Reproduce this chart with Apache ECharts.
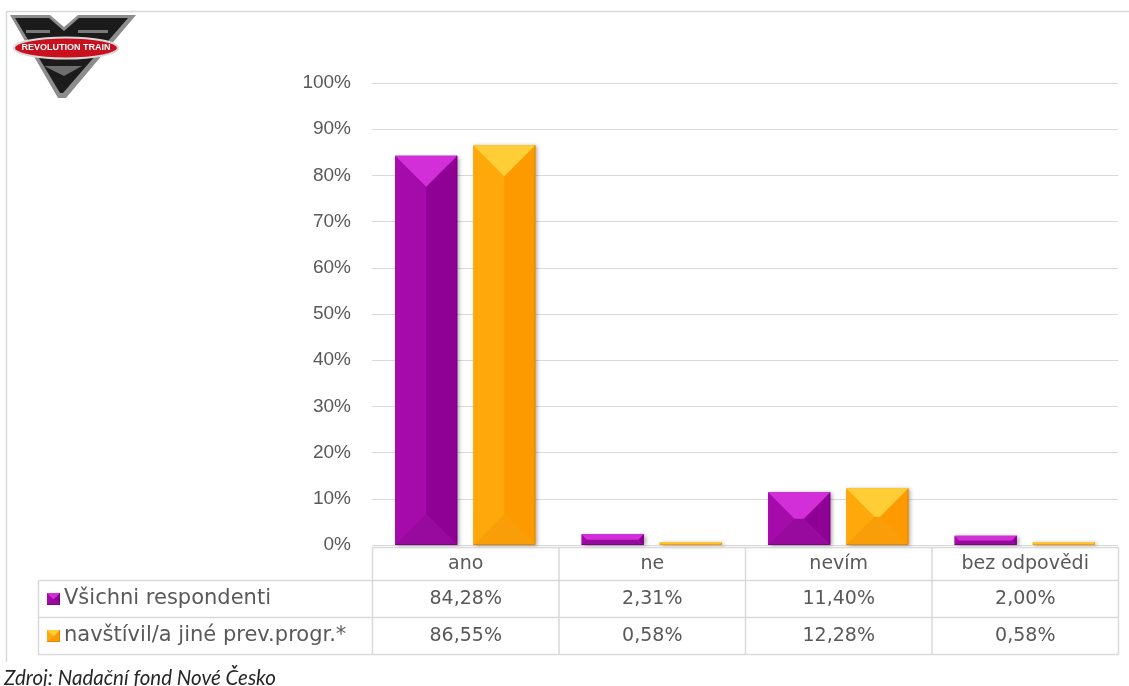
<!DOCTYPE html>
<html>
<head>
<meta charset="utf-8">
<script src="https://cdn.jsdelivr.net/npm/echarts@6/dist/echarts.min.js"></script>
<style>
    html, body { margin: 0; padding: 0; background: #fff; }
    #chart { width: 1129px; height: 686px; }
</style>
</head>
<body>
<div id="chart"></div>
<script>
// data
var categories = ['ano', 'ne', 'nevím', 'bez odpovědi'];
var seriesNames = ['Všichni respondenti', 'navštívil/a jiné prev.progr.*'];
var allValues = [84.28, 2.31, 11.40, 2.00];
var visitedValues = [86.55, 0.58, 12.28, 0.58];
var yTicks = [0, 10, 20, 30, 40, 50, 60, 70, 80, 90, 100];
var sourceText = 'Zdroj: Nadační fond Nové Česko';

// bevel colours
var purple = { top: '#d22fd9', left: '#a50bab', right: '#8f0095', bottom: '#970a9d', inner: '#a50bab', edge: '#6d0072' };
var orange = { top: '#ffce36', left: '#ffa80c', right: '#fd9a00', bottom: '#f99e08', inner: '#ffa80c', edge: '#d27c00' };

var textGrey = '#595959';
var lineGrey = '#d9d9d9';
var tableFont = 'DejaVu Sans';

function fmt(v) {
    return v.toFixed(2).replace('.', ',') + '%';
}

// one bevelled box (excel "angle" bevel look)
function bevel(x, y, w, h, pal, shadow) {
    var d = Math.min(w, h) / 2;
    var kids = [{
        type: 'rect',
        shape: { x: x, y: y, width: w, height: h },
        style: shadow ? {
            fill: pal.left, shadowBlur: 4, shadowColor: 'rgba(0,0,0,0.35)',
            shadowOffsetX: 2, shadowOffsetY: 1
        } : { fill: pal.left }
    }];
    kids.push({ type: 'polygon', shape: { points: [[x, y], [x + d, y + d], [x + d, y + h - d], [x, y + h]] }, style: { fill: pal.left } });
    kids.push({ type: 'polygon', shape: { points: [[x + w, y], [x + w - d, y + d], [x + w - d, y + h - d], [x + w, y + h]] }, style: { fill: pal.right } });
    kids.push({ type: 'polygon', shape: { points: [[x, y + h], [x + d, y + h - d], [x + w - d, y + h - d], [x + w, y + h]] }, style: { fill: pal.bottom } });
    kids.push({ type: 'polygon', shape: { points: [[x, y], [x + d, y + d], [x + w - d, y + d], [x + w, y]] }, style: { fill: pal.top } });
    if (w - 2 * d > 0.5 && h - 2 * d > 0.5) {
        kids.push({ type: 'rect', shape: { x: x + d, y: y + d, width: w - 2 * d, height: h - 2 * d }, style: { fill: pal.inner } });
    }
    if (h > 3) {
        kids.push({ type: 'polyline', shape: { points: [[x + w - 0.5, y], [x + w - 0.5, y + h - 0.5], [x, y + h - 0.5]] }, style: { stroke: pal.edge, lineWidth: 1, opacity: 0.6, fill: null } });
    }
    return kids;
}

function makeRender(pal, side) {
    return function (params, api) {
        var idx = api.value(0);
        var top = api.coord([idx, api.value(1)]);
        var base = api.coord([idx, 0]);
        var band = api.size([1, 0])[0];
        var w = band * 0.333;
        var gap = band * 0.086;
        var cx = top[0] + side * (w + gap) / 2;
        var h = Math.max(base[1] - top[1], 1.5);
        return { type: 'group', children: bevel(cx - w / 2, base[1] - h, w, h, pal, true) };
    };
}

var myChart = echarts.init(document.getElementById('chart'));

var option = {
    animation: false,
    grid: { left: 372, right: 11, top: 83, bottom: 141 },
    xAxis: {
        type: 'category',
        data: categories,
        axisLine: { show: false },
        axisTick: { show: false },
        axisLabel: { show: false }
    },
    yAxis: {
        type: 'value',
        min: yTicks[0],
        max: yTicks[yTicks.length - 1],
        interval: 10,
        axisLine: { show: false },
        axisTick: { show: false },
        splitLine: { lineStyle: { color: lineGrey, width: 1 } },
        axisLabel: {
            formatter: '{value}%',
            margin: 21,
            color: textGrey,
            fontFamily: 'Liberation Sans',
            fontSize: 19
        }
    },
    series: [
        {
            name: seriesNames[0],
            type: 'custom',
            renderItem: makeRender(purple, -1),
            encode: { x: 0, y: 1 },
            data: allValues.map(function (v, i) { return [i, v]; }),
            z: 3
        },
        {
            name: seriesNames[1],
            type: 'custom',
            renderItem: makeRender(orange, 1),
            encode: { x: 0, y: 1 },
            data: visitedValues.map(function (v, i) { return [i, v]; }),
            z: 3
        }
    ]
};
myChart.setOption(option);

// table, frame, logo, source
var x0 = myChart.convertToPixel({ xAxisIndex: 0 }, 0);
var x1 = myChart.convertToPixel({ xAxisIndex: 0 }, 1);
var band = x1 - x0;
var tLeft = Math.round(x0 - band / 2) + 0.5;
var tRight = tLeft + band * categories.length;
var yBase = Math.round(myChart.convertToPixel({ yAxisIndex: 0 }, 0)) + 0.5;
var labelLeft = 38.5;
var rowTops = [yBase + 2, yBase + 35, yBase + 72, yBase + 109];

var g = [];
function hline(xa, xb, y) {
    g.push({ type: 'line', shape: { x1: xa, y1: y, x2: xb, y2: y }, style: { stroke: lineGrey, lineWidth: 1.5 }, z: 10 });
}
function vline(x, ya, yb) {
    g.push({ type: 'line', shape: { x1: x, y1: ya, x2: x, y2: yb }, style: { stroke: lineGrey, lineWidth: 1.5 }, z: 10 });
}
function txt(x, y, s, align, size) {
    g.push({
        type: 'text', x: x, y: y, z: 11,
        style: { text: s, fill: textGrey, font: (size || 19) + 'px "' + tableFont + '"', align: align || 'center', verticalAlign: 'middle' }
    });
}

// frame
g.push({ type: 'line', shape: { x1: 6.5, y1: 11.5, x2: 1129, y2: 11.5 }, style: { stroke: lineGrey, lineWidth: 1.5 } });
g.push({ type: 'line', shape: { x1: 6.5, y1: 11.5, x2: 6.5, y2: 662 }, style: { stroke: lineGrey, lineWidth: 1.5 } });

// table grid
hline(tLeft, tRight, rowTops[0]);
hline(labelLeft, tRight, rowTops[1]);
hline(labelLeft, tRight, rowTops[2]);
hline(labelLeft, tRight, rowTops[3]);
vline(labelLeft, rowTops[1], rowTops[3]);
for (var k = 0; k <= categories.length; k++) {
    vline(tLeft + band * k, rowTops[0], rowTops[3]);
}

var rowVals = [allValues, visitedValues];
var pals = [purple, orange];
categories.forEach(function (c, i) {
    var cx = tLeft + band * (i + 0.5);
    txt(cx, (rowTops[0] + rowTops[1]) / 2, c);
    rowVals.forEach(function (vals, r) {
        txt(cx, (rowTops[r + 1] + rowTops[r + 2]) / 2, fmt(vals[i]));
    });
});
seriesNames.forEach(function (n, r) {
    var cy = (rowTops[r + 1] + rowTops[r + 2]) / 2;
    g.push({ type: 'group', z: 11, children: bevel(47, cy - 6, 13, 12, pals[r], false) });
    txt(64, cy, n, 'left', 21);
});

// source
g.push({
    type: 'text', x: 4, y: 678, z: 11,
    style: { text: sourceText, fill: '#262626', font: 'italic 20.5px Lato', verticalAlign: 'middle' }
});

// logo
g.push({
    type: 'group', z: 12,
    children: [
        { type: 'polygon', shape: { points: [[10, 15], [50, 15], [64, 27], [78, 15], [136, 15], [66, 98], [58, 98]] }, style: { fill: '#8c8c8c' } },
        { type: 'polygon', shape: { points: [[15, 18], [49, 18], [64, 31], [79, 18], [128, 18], [63, 93], [60, 93]] }, style: { fill: '#1b1b1b' } },
        { type: 'rect', shape: { x: 26, y: 30, width: 24, height: 3 }, style: { fill: '#7a7a7a' } },
        { type: 'rect', shape: { x: 78, y: 30, width: 30, height: 3 }, style: { fill: '#7a7a7a' } },
        { type: 'polygon', shape: { points: [[44, 66], [82, 66], [64, 76]] }, style: { fill: '#6e6e6e' } },
        { type: 'ellipse', shape: { cx: 66, cy: 48, rx: 52, ry: 10.5 }, style: { fill: '#c8101e', stroke: '#d8d8d8', lineWidth: 2 } },
        { type: 'text', x: 66, y: 48, style: { text: 'REVOLUTION TRAIN', fill: '#ffffff', font: 'bold 9px "Liberation Sans"', align: 'center', verticalAlign: 'middle' } }
    ]
});

myChart.setOption({ graphic: g });
</script>
</body>
</html>
